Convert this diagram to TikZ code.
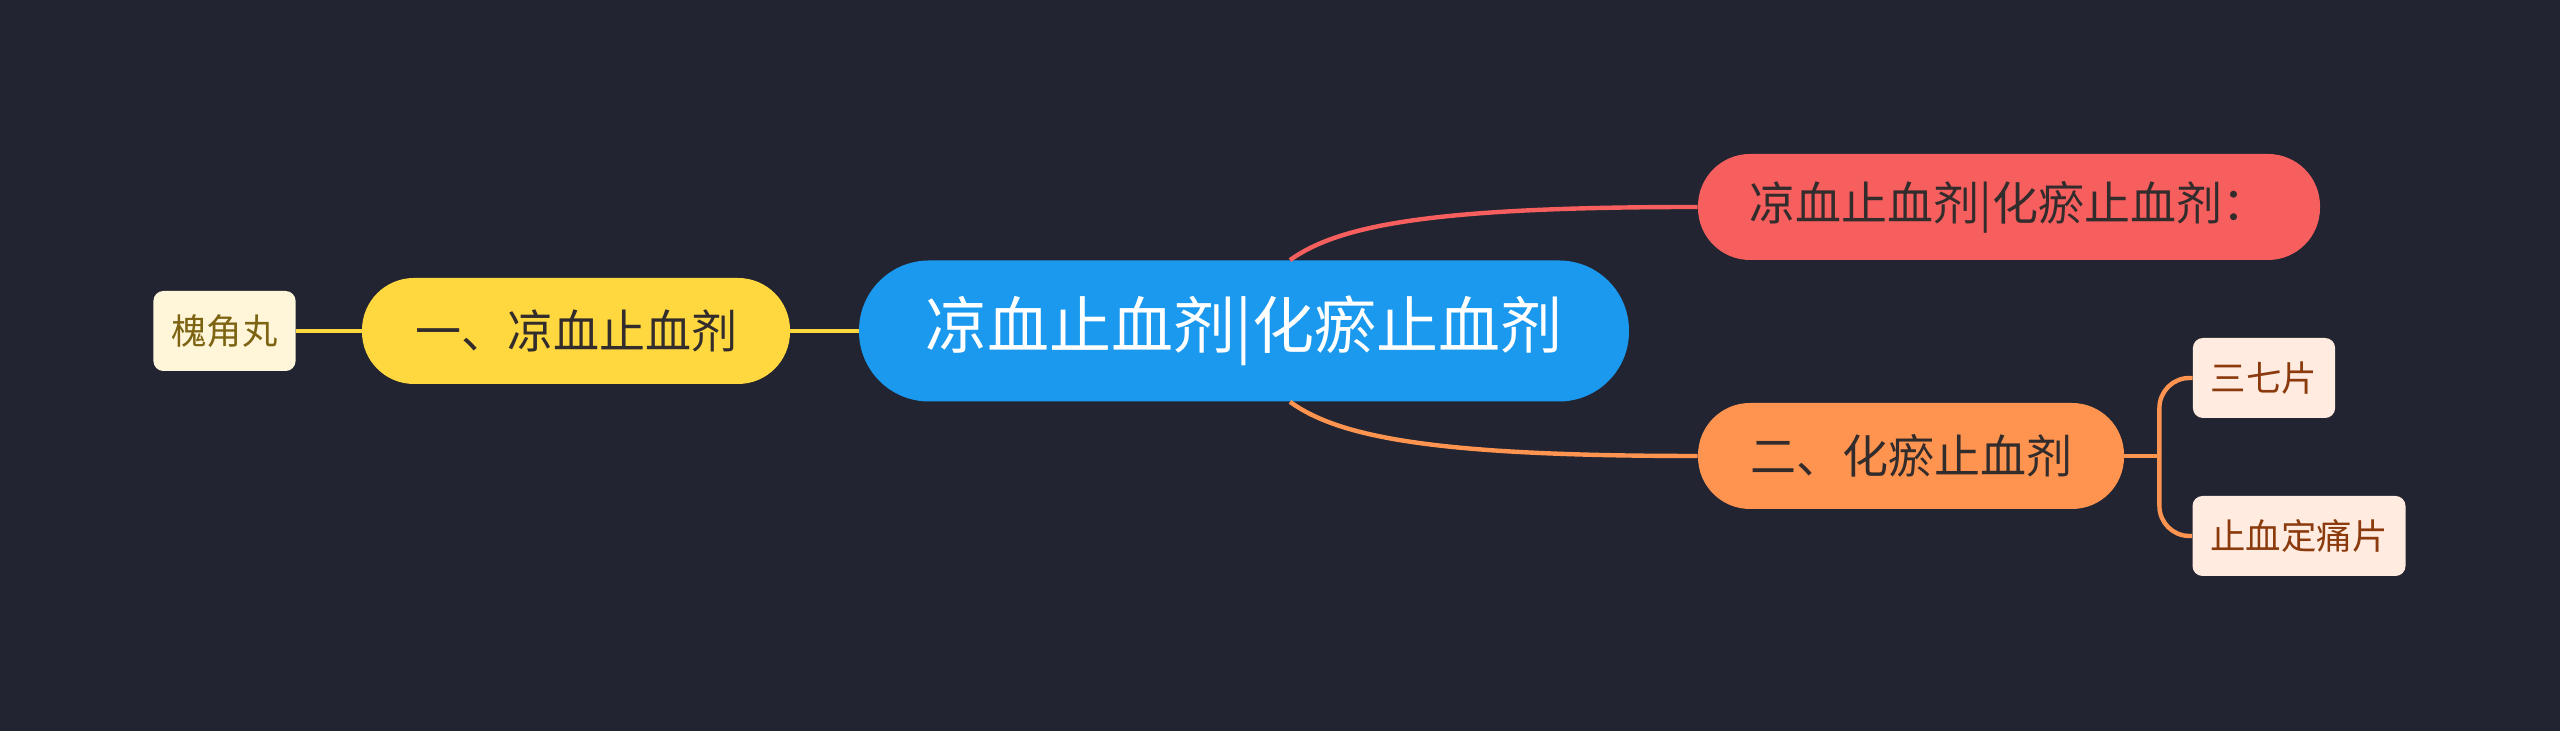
\documentclass[tikz,border=0pt]{standalone}
\usepackage{fontspec}
\setmainfont{Noto Sans CJK SC}
\usepackage{xcolor}
\definecolor{bg}{HTML}{222531}
\definecolor{rootblue}{HTML}{1A99EE}
\definecolor{redtopic}{HTML}{F75F5F}
\definecolor{orangetopic}{HTML}{FE9450}
\definecolor{yellowtopic}{HTML}{FFD83F}
\definecolor{creamleaf}{HTML}{FFF6DA}
\definecolor{peachleaf}{HTML}{FFEBDF}
\definecolor{olivetext}{HTML}{7D6413}
\definecolor{rusttext}{HTML}{8A3A0C}
\definecolor{darktext}{HTML}{332C2C}
\tikzset{
  root/.style = {fill=rootblue, text=white, rounded corners=35pt, minimum width=385pt,
    minimum height=70.5pt, inner sep=0pt, font=\fontsize{31pt}{37pt}\selectfont},
  topic/.style = {fill=#1, text=darktext, rounded corners=26pt, minimum height=53pt,
    inner sep=0pt, font=\fontsize{23pt}{27pt}\selectfont},
  leaf/.style = {fill=#1, rounded corners=5pt, minimum height=40pt, inner xsep=9pt,
    inner ysep=0pt, font=\fontsize{17.7pt}{21pt}\selectfont},
  link/.style = {draw=#1, line width=2.2pt}
}

\begin{document}
\begin{tikzpicture}[x=1pt,y=1pt]

  \fill[bg] (0,0) rectangle (1280,365.5);

  \node[root] (root) at (622,200) {凉血止血剂|化瘀止血剂};

  \node[topic=redtopic, minimum width=311pt] (red) at (1004.5,262) {凉血止血剂|化瘀止血剂：};
  \node[topic=orangetopic, minimum width=213pt] (orange) at (955.5,137.5) {二、化瘀止血剂};
  \node[topic=yellowtopic, minimum width=214pt] (yellow) at (288,200) {一、凉血止血剂};

  \node[leaf=creamleaf, text=olivetext] (huaijiao) at (112.25,200) {槐角丸};
  \node[leaf=peachleaf, text=rusttext] (sanqi) at (1132,176.5) {三七片};
  \node[leaf=peachleaf, text=rusttext] (zhixue) at (1149.5,97.5) {止血定痛片};

  % connectors
  \draw[link=redtopic] ([xshift=23pt]root.north) .. controls +(25pt,18pt) and +(-130pt,0pt) .. (red.west);
  \draw[link=orangetopic] ([xshift=23pt]root.south) .. controls +(25pt,-18pt) and +(-130pt,0pt) .. (orange.west);
  \draw[link=yellowtopic] (root.west) -- (yellow.east);
  \draw[link=yellowtopic] (yellow.west) -- (huaijiao.east);

  \coordinate (fork) at ([xshift=17.5pt]orange.east);
  \draw[link=orangetopic] (orange.east) -- (fork);
  \draw[link=orangetopic, rounded corners=15pt] (fork) |- (sanqi.west);
  \draw[link=orangetopic, rounded corners=15pt] (fork) |- (zhixue.west);

\end{tikzpicture}
\end{document}
